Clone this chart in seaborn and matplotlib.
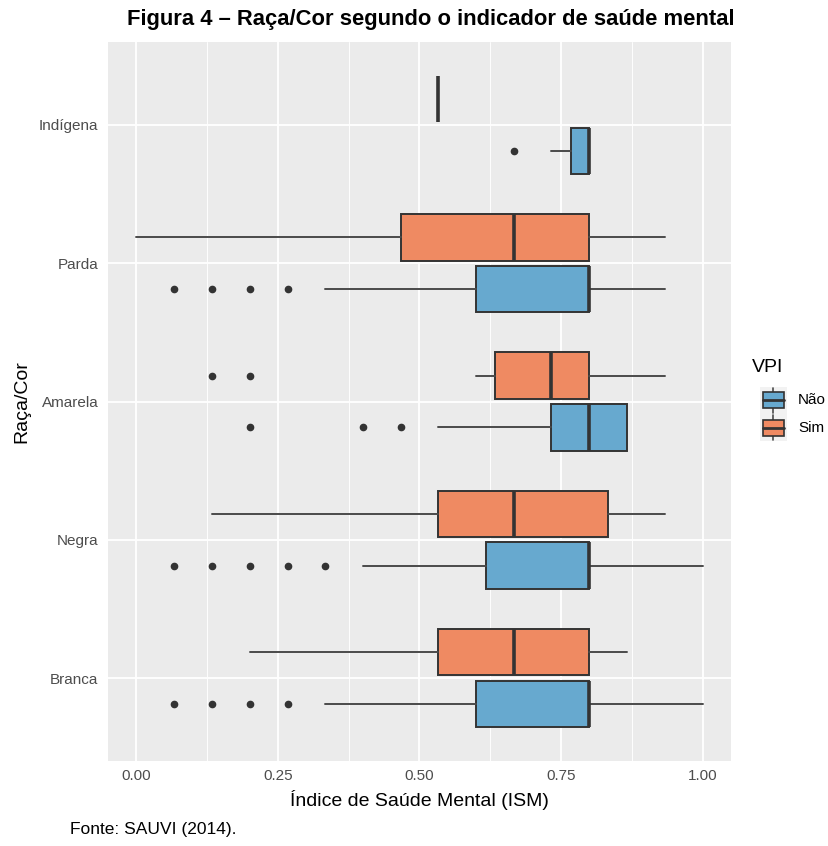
import matplotlib
matplotlib.use("Agg")
import matplotlib.pyplot as plt
from matplotlib import font_manager
from matplotlib.patches import Rectangle
from matplotlib.lines import Line2D
import seaborn as sns

# Race/colour groups, top to bottom, and VPI groups
categories = ["Indígena", "Parda", "Amarela", "Negra", "Branca"]
groups = ["Não", "Sim"]

# Box statistics of the mental-health index (ISM) per group
sim_whislo = [0.533, 0.000, 0.600, 0.133, 0.200]
sim_q1     = [0.533, 0.467, 0.633, 0.533, 0.533]
sim_med    = [0.533, 0.667, 0.733, 0.667, 0.667]
sim_q3     = [0.533, 0.800, 0.800, 0.833, 0.800]
sim_whishi = [0.533, 0.933, 0.933, 0.933, 0.867]
sim_fliers = [[], [], [0.133, 0.200], [], []]

nao_whislo = [0.733, 0.333, 0.533, 0.400, 0.333]
nao_q1     = [0.767, 0.600, 0.733, 0.617, 0.600]
nao_med    = [0.800, 0.800, 0.800, 0.800, 0.800]
nao_q3     = [0.800, 0.800, 0.867, 0.800, 0.800]
nao_whishi = [0.800, 0.933, 0.867, 1.000, 1.000]
nao_fliers = [[0.667], [0.067, 0.133, 0.200, 0.267], [0.200, 0.400, 0.467],
              [0.067, 0.133, 0.200, 0.267, 0.333], [0.067, 0.133, 0.200, 0.267]]

x_ticks = [0.00, 0.25, 0.50, 0.75, 1.00]
x_tick_labels = ["0.00", "0.25", "0.50", "0.75", "1.00"]

colors = {"Não": "#67A9CF", "Sim": "#EF8A62"}

sns.set_theme(style="darkgrid", rc={
    "axes.facecolor": "#EBEBEB",
    "grid.color": "white",
    "axes.edgecolor": "#EBEBEB",
})
installed = {f.name for f in font_manager.fontManager.ttflist}
base_font = "Liberation Sans" if "Liberation Sans" in installed else "DejaVu Sans"
if "Liberation Sans Narrow" in installed:
    title_font, title_size = "Liberation Sans Narrow", 18.5
else:
    title_font, title_size = base_font, 15.8
plt.rcParams["font.family"] = [base_font, "DejaVu Sans"]

W, H = 829, 846
fig = plt.figure(figsize=(W / 100, H / 100), dpi=100)
fig.patch.set_facecolor("white")
ax = fig.add_axes([108 / W, 1 - 761 / H, (731 - 108) / W, (761 - 42) / H])


def make_stats(i, wl, q1, md, q3, wh, fl):
    return dict(whislo=wl[i], q1=q1[i], med=md[i], q3=q3[i], whishi=wh[i], fliers=fl[i])


n = len(categories)
ypos = [n - i for i in range(n)]  # top category at highest y
offset, width = 0.1875, 0.3375

common = dict(vert=False, widths=width, patch_artist=True, showcaps=False,
              boxprops=dict(edgecolor="#333333", linewidth=1.4),
              medianprops=dict(color="#333333", linewidth=2.6, solid_capstyle="butt"),
              whiskerprops=dict(color="#4A4A4A", linewidth=1.4),
              flierprops=dict(marker="o", markerfacecolor="#333333", markeredgecolor="#333333",
                              markersize=4.5, linestyle="none"))

sim_stats = [make_stats(i, sim_whislo, sim_q1, sim_med, sim_q3, sim_whishi, sim_fliers) for i in range(n)]
nao_stats = [make_stats(i, nao_whislo, nao_q1, nao_med, nao_q3, nao_whishi, nao_fliers) for i in range(n)]

b_sim = ax.bxp(sim_stats, positions=[y + offset for y in ypos], **common)
b_nao = ax.bxp(nao_stats, positions=[y - offset for y in ypos], **common)
for b in b_sim["boxes"]:
    b.set_facecolor(colors["Sim"])
for b in b_nao["boxes"]:
    b.set_facecolor(colors["Não"])

ax.set_xlim(-0.05, 1.05)
ax.set_ylim(0.4, n + 0.6)
ax.set_xticks(x_ticks)
ax.set_xticklabels(x_tick_labels)
ax.set_xticks([0.125, 0.375, 0.625, 0.875], minor=True)
ax.set_yticks(ypos)
ax.set_yticklabels(categories)
ax.grid(True, which="major", color="white", linewidth=1.3)
ax.grid(True, which="minor", axis="x", color="white", linewidth=0.65)
ax.set_axisbelow(True)
for s in ax.spines.values():
    s.set_visible(False)
ax.tick_params(axis="both", which="major", length=4, width=1.1, color="#333333",
               labelsize=11, labelcolor="#4D4D4D", pad=3)
ax.tick_params(axis="x", which="major", pad=2)
ax.tick_params(axis="both", which="minor", length=0)
ax.set_xlabel("Índice de Saúde Mental (ISM)", fontsize=14, color="black", labelpad=5)
ax.set_ylabel("Raça/Cor", fontsize=14, color="black", labelpad=6)

# Title and source note
fig.text(127 / W, 1 - 19 / H, "Figura 4 – Raça/Cor segundo o indicador de saúde mental",
         fontsize=title_size, fontweight="bold", family=[title_font, "DejaVu Sans"],
         ha="left", va="center", color="black")
fig.text(70 / W, 1 - 829 / H, "Fonte: SAUVI (2014).", fontsize=12.5, ha="left",
         va="center", color="black")

# Legend drawn as boxplot keys
def fx(x):
    return x / W


def fy(y):
    return 1 - y / H


fig.text(fx(752), fy(367), "VPI", fontsize=14, ha="left", va="center", color="black")
key = 27
for k, g in enumerate(groups):
    top = 387 + k * key
    cy = top + key / 2
    fig.patches.append(Rectangle((fx(760), fy(top + key)), 27 / W, key / H,
                                 transform=fig.transFigure, facecolor="#F2F2F2",
                                 edgecolor="none", zorder=1))
    fig.lines.append(Line2D([fx(773.5), fx(773.5)], [fy(top + 1), fy(top + key - 1)],
                            transform=fig.transFigure, color="#4A4A4A", linewidth=1.2, zorder=2))
    fig.patches.append(Rectangle((fx(763), fy(cy + 8)), 21 / W, 16 / H,
                                 transform=fig.transFigure, facecolor=colors[g],
                                 edgecolor="#333333", linewidth=1.2, zorder=3))
    fig.lines.append(Line2D([fx(763), fx(784)], [fy(cy), fy(cy)],
                            transform=fig.transFigure, color="#333333", linewidth=2, zorder=4))
    fig.text(fx(798), fy(cy), g, fontsize=11, ha="left", va="center", color="black")

fig.savefig("out.png", dpi=100)
